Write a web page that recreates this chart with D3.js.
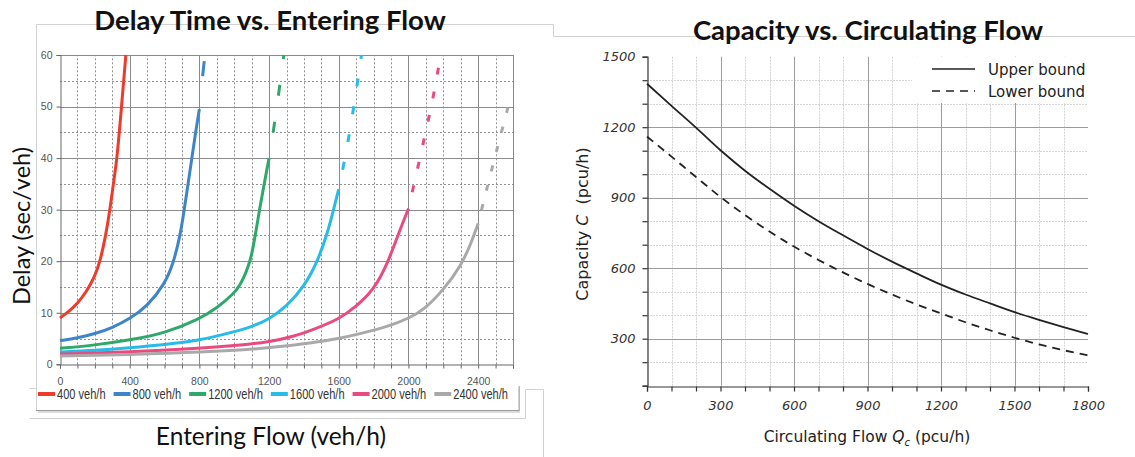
<!DOCTYPE html>
<html>
<head>
<meta charset="utf-8">
<script src="https://cdn.jsdelivr.net/npm/d3@7"></script>
<style>
body { margin: 0; background: #fff; }
svg { display: block; }
.ltick text { font-family: "Liberation Sans Narrow", "Liberation Sans", sans-serif; font-size: 10.5px; fill: #555; }
.rtick text { font-family: "DejaVu Sans", sans-serif; font-style: italic; font-size: 13px; fill: #333; }
</style>
</head>
<body>
<svg id="chart" width="1135" height="457"></svg>
<script>
// ---- left chart data: delay (sec/veh) vs entering flow (veh/h), one curve per circulating flow ----
var circulatingFlows = [400, 800, 1200, 1600, 2000, 2400];
var legendLabels = ["400 veh/h", "800 veh/h", "1200 veh/h", "1600 veh/h", "2000 veh/h", "2400 veh/h"];

var flow400  = [0, 50, 100, 150, 200, 230, 260, 287, 306, 328, 353, 378];
var delay400 = [9, 10.2, 11.8, 14, 17, 20, 24.5, 30, 35, 40, 50, 60];

var flow800  = [0, 100, 200, 300, 400, 500, 600, 650, 690, 713, 735, 757, 778, 800, 815, 832];
var delay800 = [4.6, 5.1, 5.9, 7.1, 8.8, 11.2, 15.5, 19.5, 25, 30, 35, 40, 45, 49.5, 55, 60];

var flow1200  = [0, 200, 400, 600, 800, 900, 1000, 1030, 1060, 1080, 1100, 1120, 1145, 1172, 1200, 1224, 1253, 1285];
var delay1200 = [3.1, 3.7, 4.7, 6, 8.8, 10.9, 13.8, 15.2, 17.2, 18.9, 21.2, 24.8, 30, 35, 40, 45, 52, 60];

var flow1600  = [0, 200, 400, 600, 800, 1000, 1100, 1200, 1300, 1400, 1480, 1540, 1570, 1600, 1654, 1712, 1730];
var delay1600 = [2.4, 2.7, 3.2, 3.8, 4.6, 6.3, 7.3, 8.7, 11.2, 15, 20, 26, 30, 34, 43, 55.5, 60];

var flow2000  = [0, 400, 800, 1000, 1200, 1350, 1450, 1600, 1700, 1800, 1880, 1950, 2000, 2050, 2110, 2141, 2185];
var delay2000 = [2.0, 2.4, 3.1, 3.6, 4.3, 5.5, 6.7, 8.7, 11.2, 14.4, 19.5, 26, 30.2, 37.6, 46.8, 51.5, 60];

var flow2400  = [0, 400, 800, 1200, 1450, 1600, 1720, 1890, 2000, 2090, 2200, 2300, 2360, 2400, 2449, 2510, 2580];
var delay2400 = [1.6, 1.9, 2.3, 3.1, 4.2, 5, 5.9, 7.4, 8.9, 10.6, 14.4, 19, 23.5, 27.3, 34, 42, 51];

var flowArrays  = [flow400, flow800, flow1200, flow1600, flow2000, flow2400];
var delayArrays = [delay400, delay800, delay1200, delay1600, delay2000, delay2400];

// ---- right chart data: capacity (pcu/h) vs circulating flow (pcu/h) ----
var circFlow   = [0, 100, 200, 300, 400, 500, 600, 700, 800, 900, 1000, 1100, 1200, 1300, 1400, 1500, 1600, 1700, 1800];
var upperBound = [1385, 1291, 1198, 1102, 1015, 938, 866, 800, 740, 682, 628, 578, 530, 488, 450, 413, 380, 349, 320];
var lowerBound = [1160, 1075, 988, 903, 826, 756, 692, 635, 582, 533, 488, 446, 408, 370, 336, 304, 276, 251, 229];
var boundLabels = ["Upper bound", "Lower bound"];

// styles
var seriesColors = ["#ee3b2b", "#3d85c8", "#2fa86b", "#27bce8", "#ea4b7e", "#a9a9a9"];
var seriesDash = [null, [15, 33], [11, 26], [8, 20], [7, 17], [6, 14]];

var svg = d3.select("#chart");
function px(v) { return Math.round(v) + 0.5; }

/*
// slide frame lines (text boxes around the pictures)
*/
var frame = svg.append("g").attr("fill", "none").attr("stroke", "#d2d2d2").attr("stroke-width", 1);
[[36, 24, 553, 24], [553, 24, 553, 36], [553, 36, 1135, 36], [36, 24, 36, 410],
 [29, 388, 36, 388], [29, 418, 525, 418], [525, 389, 543, 389], [525, 389, 525, 418],
 [543, 389, 543, 457], [518, 386, 518, 410]].forEach(function(l) {
  frame.append("line").attr("x1", px(l[0])).attr("y1", px(l[1])).attr("x2", px(l[2])).attr("y2", px(l[3]));
});
frame.append("line").attr("x1", 36).attr("x2", 519).attr("y1", 410.5).attr("y2", 410.5).attr("stroke", "#9a9a9a");
frame.append("line").attr("x1", 38).attr("x2", 520).attr("y1", 412).attr("y2", 412).attr("stroke", "#dcdcdc").attr("stroke-width", 2);
frame.append("line").attr("x1", 519.5).attr("x2", 519.5).attr("y1", 386).attr("y2", 411).attr("stroke", "#b8b8b8");

/*
// LEFT CHART
*/
var xL = d3.scaleLinear().domain([0, 2600]).range([60, 513]);
var yL = d3.scaleLinear().domain([0, 60]).range([364.3, 55]);

var gL = svg.append("g");

// minor grid (dashed)
gL.selectAll(".vminor").data(d3.range(100, 2600, 100).filter(function(d) { return d % 400 !== 0; }))
  .enter().append("line")
  .attr("x1", function(d) { return px(xL(d)); }).attr("x2", function(d) { return px(xL(d)); })
  .attr("y1", yL(0)).attr("y2", yL(60))
  .attr("stroke", "#939393").attr("stroke-dasharray", "2,2");
gL.selectAll(".hminor").data(d3.range(5, 60, 10))
  .enter().append("line")
  .attr("x1", xL(0)).attr("x2", xL(2600))
  .attr("y1", function(d) { return px(yL(d)); }).attr("y2", function(d) { return px(yL(d)); })
  .attr("stroke", "#939393").attr("stroke-dasharray", "2,2");

// major grid
gL.selectAll(".vmajor").data(d3.range(400, 2601, 400).concat([2600]))
  .enter().append("line")
  .attr("x1", function(d) { return px(xL(d)); }).attr("x2", function(d) { return px(xL(d)); })
  .attr("y1", yL(0)).attr("y2", yL(60))
  .attr("stroke", "#8a8a8a");
gL.selectAll(".hmajor").data(d3.range(10, 61, 10))
  .enter().append("line")
  .attr("x1", xL(0)).attr("x2", xL(2600))
  .attr("y1", function(d) { return px(yL(d)); }).attr("y2", function(d) { return px(yL(d)); })
  .attr("stroke", "#8a8a8a");

// axes
var yAxisL = d3.axisLeft(yL).tickValues(d3.range(0, 61, 10)).tickSize(4).tickPadding(4);
var xAxisL = d3.axisBottom(xL).tickValues(d3.range(0, 2601, 100)).tickSize(4).tickPadding(9)
               .tickFormat(function(d) { return d % 400 === 0 ? d : ""; });

gL.append("g").attr("class", "ltick")
  .attr("transform", "translate(" + px(xL(0)) + ",0)")
  .call(yAxisL);
gL.append("g").attr("class", "ltick")
  .attr("transform", "translate(0," + px(yL(0)) + ")")
  .call(xAxisL);
gL.selectAll(".ltick path, .ltick line").attr("stroke", "#666");

// curves: solid while entering flow <= circulating flow, dashed beyond
var lineL = d3.line()
              .x(function(p) { return xL(p[0]); })
              .y(function(p) { return yL(p[1]); })
              .curve(d3.curveBasis);

var curves = gL.append("g").attr("fill", "none").attr("stroke-width", 3);
circulatingFlows.forEach(function(c, i) {
  var pts = d3.zip(flowArrays[i], delayArrays[i]);
  var solid = pts.filter(function(p) { return p[0] <= c; });
  var dashed = pts.filter(function(p) { return p[0] >= c; });
  curves.append("path").attr("d", lineL(solid)).attr("stroke", seriesColors[i]);
  if (dashed.length > 1 && seriesDash[i]) {
    curves.append("path").attr("d", lineL(dashed))
          .attr("stroke", seriesColors[i])
          .attr("stroke-dasharray", seriesDash[i].join(","))
          .attr("stroke-dashoffset", seriesDash[i][0]);
  }
});

// legend (condensed text squeezed to fit the strip under the axis)
var legL = gL.append("g").attr("transform", "translate(38,394)");
var legTexts = legendLabels.map(function(lbl) {
  return legL.append("text").attr("y", 5)
      .attr("font-family", "'Liberation Sans Narrow', 'Liberation Sans', sans-serif")
      .attr("font-size", 14.5).attr("fill", "#333").text(lbl);
});
var natural = legTexts.map(function(t) { return t.node().getComputedTextLength(); });
var squeeze = Math.min(1, (470 - 6 * 19 - 5 * 8) / d3.sum(natural));
var cursor = 0;
legTexts.forEach(function(t, i) {
  legL.append("line").attr("x1", cursor).attr("x2", cursor + 17).attr("y1", 0).attr("y2", 0)
      .attr("stroke", seriesColors[i]).attr("stroke-width", 4);
  var w = natural[i] * squeeze;
  t.attr("x", cursor + 19).attr("textLength", w).attr("lengthAdjust", "spacingAndGlyphs");
  cursor += 19 + w + 8;
});

// titles
svg.append("text").attr("x", 270).attr("y", 30).attr("text-anchor", "middle")
   .attr("font-family", "Lato, 'Open Sans', sans-serif").attr("font-weight", "bold")
   .attr("font-size", 27.5).attr("fill", "#111").text("Delay Time vs. Entering Flow");
svg.append("text").attr("transform", "translate(30,226) rotate(-90)").attr("text-anchor", "middle")
   .attr("font-family", "Lato, 'Open Sans', sans-serif").attr("font-size", 23.5).attr("fill", "#111")
   .text("Delay (sec/veh)");
svg.append("text").attr("x", 271).attr("y", 445).attr("text-anchor", "middle")
   .attr("font-family", "Lato, 'Open Sans', sans-serif").attr("font-size", 24.5).attr("fill", "#111")
   .text("Entering Flow (veh/h)");

/*
// RIGHT CHART
*/
var xR = d3.scaleLinear().domain([0, 1800]).range([647, 1088]);
var yR = d3.scaleLinear().domain([100, 1500]).range([385.7, 56.7]);

var gR = svg.append("g");

gR.selectAll(".rvminor").data(d3.range(100, 1800, 100).filter(function(d) { return d % 300 !== 0; }))
  .enter().append("line")
  .attr("x1", function(d) { return px(xR(d)); }).attr("x2", function(d) { return px(xR(d)); })
  .attr("y1", yR(100)).attr("y2", yR(1500))
  .attr("stroke", "#d4d4d4").attr("stroke-dasharray", "2,1");
gR.selectAll(".rhminor").data(d3.range(200, 1500, 100).filter(function(d) { return d % 300 !== 0; }))
  .enter().append("line")
  .attr("x1", xR(0)).attr("x2", xR(1800))
  .attr("y1", function(d) { return px(yR(d)); }).attr("y2", function(d) { return px(yR(d)); })
  .attr("stroke", "#d4d4d4").attr("stroke-dasharray", "2,1");
gR.selectAll(".rvmajor").data(d3.range(300, 1501, 300))
  .enter().append("line")
  .attr("x1", function(d) { return px(xR(d)); }).attr("x2", function(d) { return px(xR(d)); })
  .attr("y1", yR(100)).attr("y2", yR(1500))
  .attr("stroke", "#9c9c9c");
gR.selectAll(".rhmajor").data(d3.range(300, 1201, 300))
  .enter().append("line")
  .attr("x1", xR(0)).attr("x2", xR(1800))
  .attr("y1", function(d) { return px(yR(d)); }).attr("y2", function(d) { return px(yR(d)); })
  .attr("stroke", "#9c9c9c");

// axes: minor ticks every 100, labels every 300
var fmt300 = function(d) { return d % 300 === 0 ? d : ""; };
gR.append("g").attr("class", "rtick")
  .attr("transform", "translate(" + px(xR(0)) + ",0)")
  .call(d3.axisLeft(yR).tickValues(d3.range(100, 1501, 100)).tickSize(5).tickPadding(7).tickFormat(fmt300));
gR.append("g").attr("class", "rtick")
  .attr("transform", "translate(0," + px(yR(100)) + ")")
  .call(d3.axisBottom(xR).tickValues(d3.range(0, 1801, 100)).tickSize(5).tickPadding(9).tickFormat(fmt300));
gR.selectAll(".rtick path, .rtick line").attr("stroke", "#333").attr("stroke-width", 1.2);
gR.selectAll(".rtick text").attr("font-style", "italic").attr("font-family", "'DejaVu Sans', sans-serif");

// legend box hides the grid behind it
var legR = gR.append("g");
legR.append("rect").attr("x", 912).attr("y", 57).attr("width", 183).attr("height", 46).attr("fill", "#fff");

var lineR = d3.line().curve(d3.curveMonotoneX);
var upperPts = circFlow.map(function(q, i) { return [xR(q), yR(upperBound[i])]; });
var lowerPts = circFlow.map(function(q, i) { return [xR(q), yR(lowerBound[i])]; });
gR.append("path").attr("d", lineR(upperPts)).attr("fill", "none").attr("stroke", "#222").attr("stroke-width", 1.8);
gR.append("path").attr("d", lineR(lowerPts)).attr("fill", "none").attr("stroke", "#222").attr("stroke-width", 1.8)
  .attr("stroke-dasharray", "8,6");

boundLabels.forEach(function(lbl, i) {
  var ly = 69 + i * 22;
  legR.append("line").attr("x1", 932).attr("x2", 975).attr("y1", ly).attr("y2", ly)
      .attr("stroke", "#222").attr("stroke-width", 1.6)
      .attr("stroke-dasharray", i === 1 ? "8,6" : null);
  legR.append("text").attr("x", 988).attr("y", ly + 6).attr("font-family", "'DejaVu Sans', sans-serif")
      .attr("font-size", 15).attr("fill", "#222").text(lbl);
});

svg.append("text").attr("x", 868).attr("y", 40).attr("text-anchor", "middle")
   .attr("font-family", "Lato, 'Open Sans', sans-serif").attr("font-weight", "bold")
   .attr("font-size", 27.5).attr("fill", "#111").text("Capacity vs. Circulating Flow");

var yTitle = svg.append("text").attr("transform", "translate(588,224) rotate(-90)").attr("text-anchor", "middle")
   .attr("font-family", "'DejaVu Sans', sans-serif").attr("font-size", 16).attr("fill", "#222");
yTitle.append("tspan").text("Capacity ");
yTitle.append("tspan").attr("font-style", "italic").text("C");
yTitle.append("tspan").attr("xml:space", "preserve").text("  (pcu/h)");

var xTitle = svg.append("text").attr("x", 867).attr("y", 442).attr("text-anchor", "middle")
   .attr("font-family", "'DejaVu Sans', sans-serif").attr("font-size", 15.5).attr("fill", "#222");
xTitle.append("tspan").text("Circulating Flow ");
xTitle.append("tspan").attr("font-style", "italic").text("Q");
xTitle.append("tspan").attr("font-style", "italic").attr("font-size", 10).attr("dy", 4).text("c");
xTitle.append("tspan").attr("dy", -4).text(" (pcu/h)");
</script>
</body>
</html>
